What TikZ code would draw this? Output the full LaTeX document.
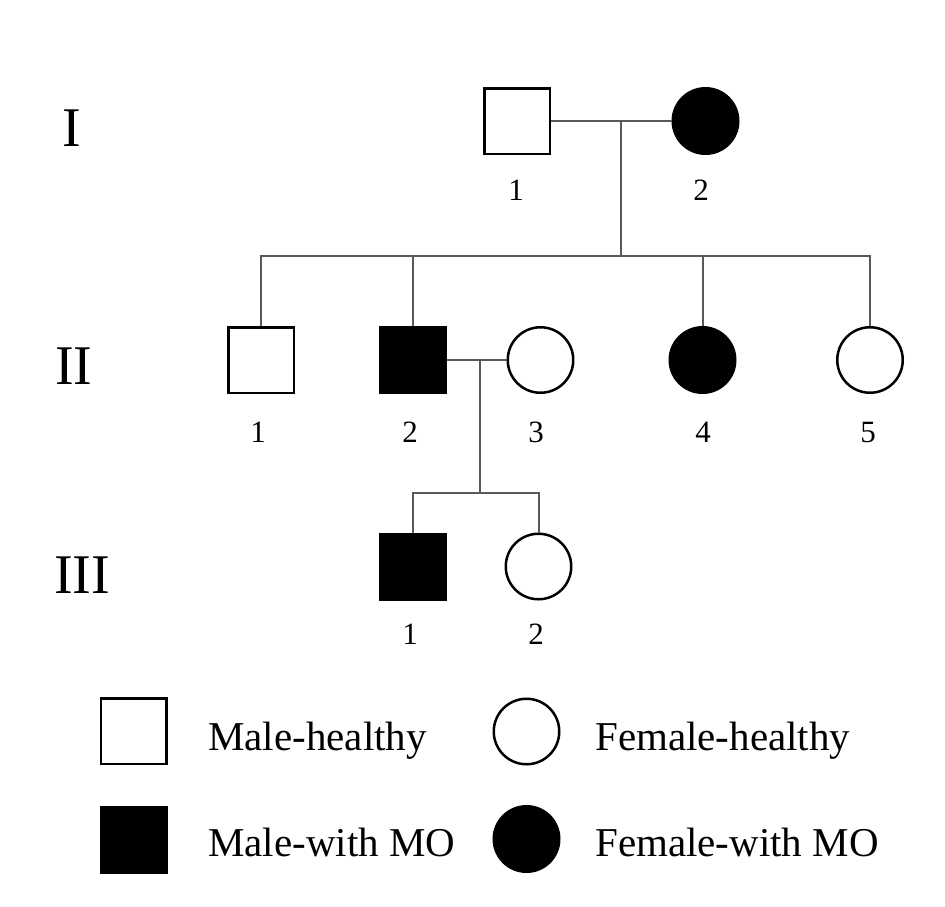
\documentclass[tikz,border=0pt]{standalone}
\usepackage{fontspec}
\setmainfont{Liberation Serif}
\begin{document}
\begin{tikzpicture}[x=1pt,y=-1pt,
 male/.style={draw=black, line width=2.5pt, minimum size=65.5pt, inner sep=0pt, rectangle, fill=white},
 female/.style={draw=black, line width=2.5pt, minimum size=65.5pt, inner sep=0pt, circle, fill=white},
 aff/.style={fill=black},
 conn/.style={draw=black!65, line width=2pt},
 num/.style={font=\fontsize{31}{31}\selectfont, inner sep=0pt},
 gen/.style={font=\fontsize{56}{56}\selectfont, anchor=base west, inner sep=0pt},
 leg/.style={font=\fontsize{41}{41}\selectfont, anchor=base west, inner sep=0pt}]
\useasboundingbox[fill=white] (0,0) rectangle (945,906);

% generation labels
\node[gen] (gI) at (62,146) {I};
\node[gen] (gII) at (55,384) {II};
\node[gen] (gIII) at (54,593) {III};

% generation I
\node[male] (I1) at (517,121) {};
\node[female,aff] (I2) at (705.5,121) {};
\node[num] (nI1) at (516,190) {1};
\node[num] (nI2) at (701,190) {2};
\coordinate (m1) at (621,121);
\coordinate (s1) at (621,256);

% generation II
\node[male] (II1) at (261,360) {};
\node[male,aff] (II2) at (413,360) {};
\node[female] (II3) at (540.5,360) {};
\node[female,aff] (II4) at (702.5,360) {};
\node[female] (II5) at (870,360) {};
\node[num] (nII1) at (258,432) {1};
\node[num] (nII2) at (410,432) {2};
\node[num] (nII3) at (536,432) {3};
\node[num] (nII4) at (703,432) {4};
\node[num] (nII5) at (868,432) {5};
\coordinate (m2) at (480,361);
\coordinate (s2) at (480,493);

% generation III
\node[male,aff] (III1) at (413,566.5) {};
\node[female] (III2) at (538.5,566.5) {};
\node[num] (nIII1) at (410,634) {1};
\node[num] (nIII2) at (536,634) {2};

% connectors
\draw[conn] (I1.east) -- (I2.west);
\draw[conn] (m1) -- (s1);
\draw[conn] (II1.north) |- (s1);
\draw[conn] (II5.north) |- (s1);
\draw[conn] (II2.north) -- (II2.north |- s1);
\draw[conn] (II4.north) -- (II4.north |- s1);
\draw[conn] (II2.east) -- (II3.west);
\draw[conn] (m2) -- (s2);
\draw[conn] (III1.north) |- (s2);
\draw[conn] (III2.north) |- (s2);

% legend
\node[male] (L1) at (133.5,731) {};
\node[male,aff] (L2) at (133.5,839.5) {};
\node[female] (L3) at (526.5,731.5) {};
\node[female,aff] (L4) at (526.5,839) {};
\node[leg] (tL1) at (208,750) {Male-healthy};
\node[leg] (tL2) at (208,856) {Male-with MO};
\node[leg] (tL3) at (595,750) {Female-healthy};
\node[leg] (tL4) at (595,856) {Female-with MO};
\end{tikzpicture}
\end{document}
